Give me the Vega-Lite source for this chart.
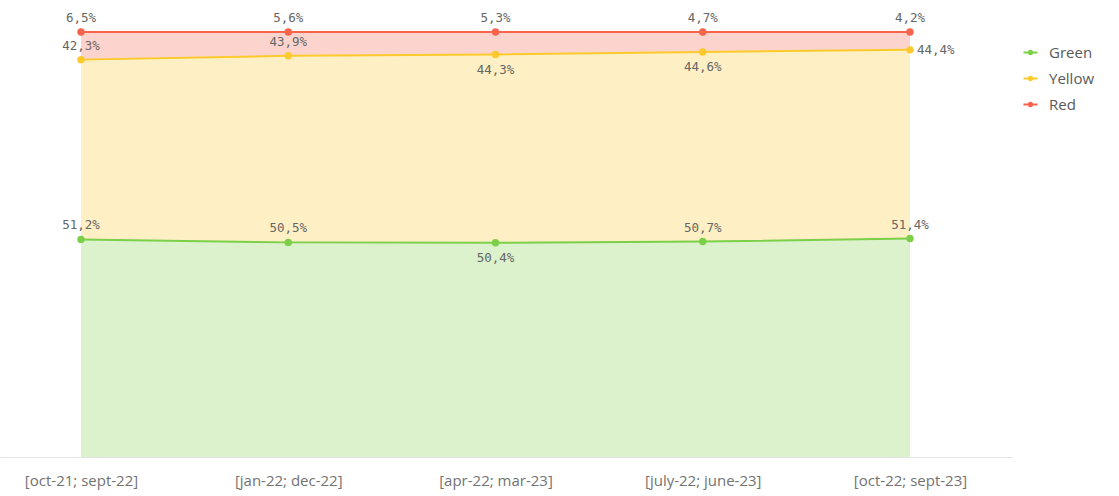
{
  "$schema": "https://vega.github.io/schema/vega-lite/v6.json",
  "width": 1012,
  "height": 425,
  "padding": {"left": 0, "top": 32, "right": 107, "bottom": 39},
  "autosize": {"type": "none"},
  "background": "white",
  "config": {
    "view": {"stroke": null},
    "locale": {"number": {"decimal": ",", "thousands": ".", "grouping": [3], "currency": ["", " €"]}}
  },
  "data": {
    "values": [
      {"period": "[oct-21; sept-22]", "series": "Green", "value": 0.512},
      {"period": "[oct-21; sept-22]", "series": "Yellow", "value": 0.423},
      {"period": "[oct-21; sept-22]", "series": "Red", "value": 0.065},
      {"period": "[jan-22; dec-22]", "series": "Green", "value": 0.505},
      {"period": "[jan-22; dec-22]", "series": "Yellow", "value": 0.439},
      {"period": "[jan-22; dec-22]", "series": "Red", "value": 0.056},
      {"period": "[apr-22; mar-23]", "series": "Green", "value": 0.504},
      {"period": "[apr-22; mar-23]", "series": "Yellow", "value": 0.443},
      {"period": "[apr-22; mar-23]", "series": "Red", "value": 0.053},
      {"period": "[july-22; june-23]", "series": "Green", "value": 0.507},
      {"period": "[july-22; june-23]", "series": "Yellow", "value": 0.446},
      {"period": "[july-22; june-23]", "series": "Red", "value": 0.047},
      {"period": "[oct-22; sept-23]", "series": "Green", "value": 0.514},
      {"period": "[oct-22; sept-23]", "series": "Yellow", "value": 0.444},
      {"period": "[oct-22; sept-23]", "series": "Red", "value": 0.042}
    ]
  },
  "transform": [
    {"calculate": "indexof(['Green','Yellow','Red'], datum.series)", "as": "ord"},
    {"stack": "value", "groupby": ["period"], "sort": [{"field": "ord", "order": "ascending"}], "as": ["y0", "y1"]}
  ],
  "encoding": {
    "x": {
      "field": "period",
      "type": "ordinal",
      "sort": ["[oct-21; sept-22]", "[jan-22; dec-22]", "[apr-22; mar-23]", "[july-22; june-23]", "[oct-22; sept-23]"],
      "scale": {"type": "point", "padding": 0.4415, "align": 0.4426},
      "axis": {
        "title": null,
        "labelAngle": 0,
        "ticks": false,
        "grid": false,
        "domainColor": "#e3e3e3",
        "domainWidth": 1,
        "labelFont": "Open Sans",
        "labelFontSize": 15,
        "labelColor": "#737373",
        "labelPadding": 16
      }
    },
    "y": {
      "field": "y1",
      "type": "quantitative",
      "scale": {"domain": [0, 1], "nice": false},
      "axis": null
    },
    "color": {
      "field": "series",
      "type": "nominal",
      "scale": {"domain": ["Green", "Yellow", "Red"], "range": ["#7ccf48", "#fcca2c", "#f8634b"]},
      "legend": {
        "title": null,
        "orient": "right",
        "offset": -2,
        "padding": 13,
        "symbolType": "M-1,-0.13L-0.4,-0.13L-0.4,0.13L-1,0.13Z M0.4,-0.13L1,-0.13L1,0.13L0.4,0.13Z M0.4,0A0.4,0.4 0 1,1 -0.4,0A0.4,0.4 0 1,1 0.4,0Z",
        "symbolSize": 196,
        "symbolOpacity": 1,
        "symbolStrokeWidth": 0,
        "labelFont": "Open Sans",
        "labelFontSize": 15,
        "labelColor": "#595959",
        "labelOffset": 11,
        "rowPadding": 10
      }
    }
  },
  "layer": [
    {
      "mark": {"type": "area", "opacity": 0.28},
      "encoding": {"y2": {"field": "y0"}}
    },
    {
      "mark": {"type": "line", "strokeWidth": 2},
      "encoding": {}
    },
    {
      "mark": {"type": "point", "filled": true, "size": 55, "opacity": 1},
      "encoding": {}
    },
    {
      "transform": [
        {"filter": "!((datum.series == 'Yellow' && (datum.period == '[apr-22; mar-23]' || datum.period == '[july-22; june-23]' || datum.period == '[oct-22; sept-23]')) || (datum.series == 'Green' && datum.period == '[apr-22; mar-23]'))"}
      ],
      "mark": {"type": "text", "dy": -14, "baseline": "middle", "font": "DejaVu Sans Mono", "fontSize": 12.5},
      "encoding": {"text": {"field": "value", "type": "quantitative", "format": ".1%"}, "color": {"value": "#666666"}}
    },
    {
      "transform": [
        {"filter": "(datum.series == 'Yellow' && (datum.period == '[apr-22; mar-23]' || datum.period == '[july-22; june-23]')) || (datum.series == 'Green' && datum.period == '[apr-22; mar-23]')"}
      ],
      "mark": {"type": "text", "dy": 15, "baseline": "middle", "font": "DejaVu Sans Mono", "fontSize": 12.5},
      "encoding": {"text": {"field": "value", "type": "quantitative", "format": ".1%"}, "color": {"value": "#666666"}}
    },
    {
      "transform": [
        {"filter": "datum.series == 'Yellow' && datum.period == '[oct-22; sept-23]'"}
      ],
      "mark": {"type": "text", "dx": 7, "align": "left", "baseline": "middle", "font": "DejaVu Sans Mono", "fontSize": 12.5},
      "encoding": {"text": {"field": "value", "type": "quantitative", "format": ".1%"}, "color": {"value": "#666666"}}
    }
  ]
}
